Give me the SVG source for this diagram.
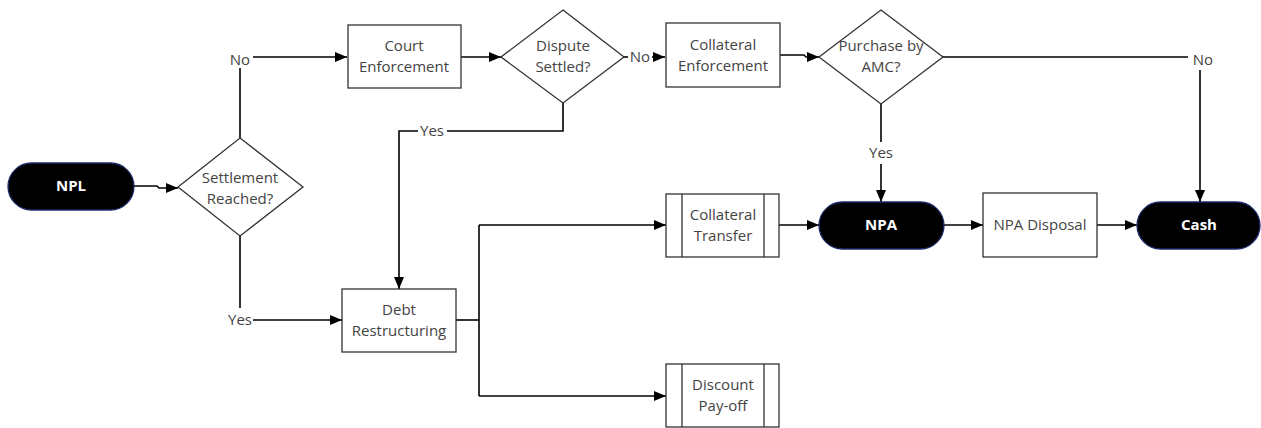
<svg xmlns="http://www.w3.org/2000/svg" width="1261" height="428" viewBox="0 0 1261 428">
<defs>
<marker id="ah" markerWidth="12" markerHeight="10" refX="12" refY="5" orient="auto" markerUnits="userSpaceOnUse">
<path d="M0,0 L12,5 L0,10 Z" fill="#000"/>
</marker>
<style>
.box{fill:#fff;stroke:#333;stroke-width:1.3}
.term{fill:#000;stroke:#1c2a6b;stroke-width:1.3}
.t{font-family:"Open Sans","Noto Sans",sans-serif;font-size:15px;fill:#444;text-anchor:middle}
.tw{font-family:"Open Sans","Noto Sans",sans-serif;font-size:15px;fill:#fff;font-weight:bold;text-anchor:middle}
.c{fill:none;stroke:#000;stroke-width:1.6}
.lbl{font-family:"Open Sans","Noto Sans",sans-serif;font-size:15px;fill:#444;text-anchor:middle}
</style>
</defs>
<rect width="1261" height="428" fill="#fff"/>
<g id="connectors">
<path class="c" d="M134,186 H157 L159,188 H178" marker-end="url(#ah)"/>
<path class="c" d="M240,138 V68"/>
<path class="c" d="M253,57 H347" marker-end="url(#ah)"/>
<path class="c" d="M461,57 H501" marker-end="url(#ah)"/>
<path class="c" d="M624,57 H628"/>
<path class="c" d="M652,57 H665" marker-end="url(#ah)"/>
<path class="c" d="M780,55 H804 L806,57 H819" marker-end="url(#ah)"/>
<path class="c" d="M943,57 H1188"/>
<path class="c" d="M1200,70 V202" marker-end="url(#ah)"/>
<path class="c" d="M881,104 V142"/>
<path class="c" d="M881,164 V202" marker-end="url(#ah)"/>
<path class="c" d="M563,103 V131 H447"/>
<path class="c" d="M418,131 H399 V289" marker-end="url(#ah)"/>
<path class="c" d="M240,236 V308"/>
<path class="c" d="M253,320 H342" marker-end="url(#ah)"/>
<path class="c" d="M456,320 H479"/>
<path class="c" d="M479,225 V396"/>
<path class="c" d="M479,225 H666" marker-end="url(#ah)"/>
<path class="c" d="M479,396 H666" marker-end="url(#ah)"/>
<path class="c" d="M779,225 H819" marker-end="url(#ah)"/>
<path class="c" d="M944,225 H983" marker-end="url(#ah)"/>
<path class="c" d="M1097,225 H1137" marker-end="url(#ah)"/>
<text class="lbl" x="240" y="65">No</text>
<text class="lbl" x="640" y="62">No</text>
<text class="lbl" x="1203" y="65">No</text>
<text class="lbl" x="432" y="136">Yes</text>
<text class="lbl" x="240" y="325">Yes</text>
<text class="lbl" x="881" y="158">Yes</text>
</g>
<g id="npl">
<rect class="term" x="8" y="163" width="126" height="47" rx="23.5"/>
<text class="tw" x="71" y="191">NPL</text>
</g>
<g id="settlement">
<polygon class="box" points="240,138 303,187 240,236 178,187"/>
<text class="t" x="240" y="183">Settlement</text>
<text class="t" x="240" y="204">Reached?</text>
</g>
<g id="court">
<rect class="box" x="348" y="25" width="113" height="63"/>
<text class="t" x="404" y="51">Court</text>
<text class="t" x="404" y="72">Enforcement</text>
</g>
<g id="dispute">
<polygon class="box" points="563,10 624,57 563,103 501,57"/>
<text class="t" x="563" y="51">Dispute</text>
<text class="t" x="563" y="72">Settled?</text>
</g>
<g id="collateral-enforcement">
<rect class="box" x="666" y="23" width="114" height="64"/>
<text class="t" x="723" y="50">Collateral</text>
<text class="t" x="723" y="71">Enforcement</text>
</g>
<g id="purchase">
<polygon class="box" points="881,10 943,57 881,104 819,57"/>
<text class="t" x="881" y="51">Purchase by</text>
<text class="t" x="881" y="72">AMC?</text>
</g>
<g id="debt">
<rect class="box" x="342" y="289" width="114" height="63"/>
<text class="t" x="399" y="315">Debt</text>
<text class="t" x="399" y="336">Restructuring</text>
</g>
<g id="collateral-transfer">
<rect class="box" x="666" y="194" width="113" height="63"/>
<line class="box" x1="682" y1="194" x2="682" y2="257"/>
<line class="box" x1="764" y1="194" x2="764" y2="257"/>
<text class="t" x="723" y="220">Collateral</text>
<text class="t" x="723" y="241">Transfer</text>
</g>
<g id="discount">
<rect class="box" x="666" y="364" width="113" height="63"/>
<line class="box" x1="682" y1="364" x2="682" y2="427"/>
<line class="box" x1="764" y1="364" x2="764" y2="427"/>
<text class="t" x="723" y="390">Discount</text>
<text class="t" x="723" y="411">Pay-off</text>
</g>
<g id="npa">
<rect class="term" x="819" y="202" width="125" height="47" rx="23.5"/>
<text class="tw" x="881" y="230">NPA</text>
</g>
<g id="npa-disposal">
<rect class="box" x="983" y="193" width="114" height="64"/>
<text class="t" x="1040" y="230">NPA Disposal</text>
</g>
<g id="cash">
<rect class="term" x="1137" y="202" width="123" height="47" rx="23.5"/>
<text class="tw" x="1199" y="230">Cash</text>
</g>
</svg>
